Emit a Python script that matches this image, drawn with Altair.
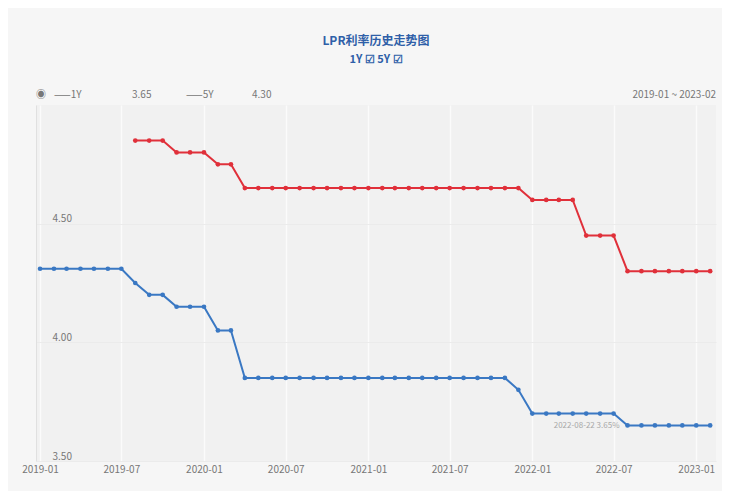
import altair as alt
import pandas as pd

months = [
    "2019-01", "2019-02", "2019-03", "2019-04", "2019-05", "2019-06", "2019-07", "2019-08", "2019-09", "2019-10", "2019-11", "2019-12",
    "2020-01", "2020-02", "2020-03", "2020-04", "2020-05", "2020-06", "2020-07", "2020-08", "2020-09", "2020-10", "2020-11", "2020-12",
    "2021-01", "2021-02", "2021-03", "2021-04", "2021-05", "2021-06", "2021-07", "2021-08", "2021-09", "2021-10", "2021-11", "2021-12",
    "2022-01", "2022-02", "2022-03", "2022-04", "2022-05", "2022-06", "2022-07", "2022-08", "2022-09", "2022-10", "2022-11", "2022-12",
    "2023-01", "2023-02",
]

lpr_1y = [
    4.31, 4.31, 4.31, 4.31, 4.31, 4.31, 4.31, 4.25, 4.20, 4.20, 4.15, 4.15,
    4.15, 4.05, 4.05, 3.85, 3.85, 3.85, 3.85, 3.85, 3.85, 3.85, 3.85, 3.85,
    3.85, 3.85, 3.85, 3.85, 3.85, 3.85, 3.85, 3.85, 3.85, 3.85, 3.85, 3.80,
    3.70, 3.70, 3.70, 3.70, 3.70, 3.70, 3.70, 3.65, 3.65, 3.65, 3.65, 3.65,
    3.65, 3.65,
]

lpr_5y = [
    None, None, None, None, None, None, None, 4.85, 4.85, 4.85, 4.80, 4.80,
    4.80, 4.75, 4.75, 4.65, 4.65, 4.65, 4.65, 4.65, 4.65, 4.65, 4.65, 4.65,
    4.65, 4.65, 4.65, 4.65, 4.65, 4.65, 4.65, 4.65, 4.65, 4.65, 4.65, 4.65,
    4.60, 4.60, 4.60, 4.60, 4.45, 4.45, 4.45, 4.30, 4.30, 4.30, 4.30, 4.30,
    4.30, 4.30,
]

series_names = ["1Y", "5Y"]
series_colors = ["#3a78c3", "#e0303a"]
x_tick_months = ["2019-01", "2019-07", "2020-01", "2020-07", "2021-01", "2021-07", "2022-01", "2022-07", "2023-01"]
y_ticks = [3.5, 4.0, 4.5]

title_text = "LPR利率历史走势图"
subtitle_text = "1Y ☑ 5Y ☑"
header_items = ["◉", "——1Y", "3.65", "——5Y", "4.30"]
header_right = "2019-01 ~ 2023-02"
note_text = "2022-08-22  3.65%"
note_month = "2022-08"

rows = []
for m, a, b in zip(months, lpr_1y, lpr_5y):
    rows.append({"date": m + "-01", "series": "1Y", "value": a})
    if b is not None:
        rows.append({"date": m + "-01", "series": "5Y", "value": b})
df = pd.DataFrame(rows)

x_scale = alt.Scale(domain=["2018-12-23", "2023-02-14"])
y_scale = alt.Scale(domain=[3.5, 5.0], nice=False, zero=False)

x_enc = alt.X(
    "date:T",
    scale=x_scale,
    title=None,
    axis=alt.Axis(
        values=[m + "-01" for m in x_tick_months],
        format="%Y-%m",
        labelFontSize=10,
        labelColor="#777",
        labelPadding=3,
        ticks=False,
        domain=False,
        grid=True,
        gridColor="#fbfbfb",
        gridWidth=1.5,
    ),
)
y_enc = alt.Y(
    "value:Q",
    scale=y_scale,
    title=None,
    axis=alt.Axis(
        values=y_ticks,
        format=".2f",
        labelFontSize=10,
        labelColor="#777",
        labelAlign="left",
        labelBaseline="bottom",
        labelPadding=-16,
        ticks=False,
        domain=True,
        domainColor="#e0e0e0",
        grid=True,
        gridColor="#ebebeb",
    ),
)
color_enc = alt.Color(
    "series:N",
    scale=alt.Scale(domain=series_names, range=series_colors),
    legend=None,
)

base = alt.Chart(df)
lines = base.mark_line(strokeWidth=2).encode(x=x_enc, y=y_enc, color=color_enc)
points = base.mark_circle(size=22, opacity=1).encode(x=x_enc, y=y_enc, color=color_enc)

note_df = pd.DataFrame([{"date": note_month + "-01", "value": lpr_1y[months.index(note_month)], "t": note_text}])
note = alt.Chart(note_df).mark_text(
    align="right", baseline="middle", dx=-8, dy=1, fontSize=8, color="#a8a8a8"
).encode(x="date:T", y="value:Q", text="t:N")

title_df = pd.DataFrame([{"t": title_text, "s": subtitle_text, "hr": header_right}])
title_mark = alt.Chart(title_df).mark_text(
    fontSize=12, fontWeight="bold", color="#2f5fa8", align="center", baseline="middle"
).encode(x=alt.value(340), y=alt.value(-64), text="t:N")
subtitle_mark = alt.Chart(title_df).mark_text(
    fontSize=11, fontWeight="bold", color="#2f5fa8", align="center", baseline="middle"
).encode(x=alt.value(340), y=alt.value(-45), text="s:N")

header_layers = []
header_x = [0, 18, 96, 150, 216]
for txt, hx in zip(header_items, header_x):
    hdf = pd.DataFrame([{"h": txt}])
    header_layers.append(
        alt.Chart(hdf).mark_text(fontSize=10, color="#777", align="left", baseline="middle")
        .encode(x=alt.value(hx), y=alt.value(-10), text="h:N")
    )
header_r = alt.Chart(title_df).mark_text(
    fontSize=10, color="#777", align="right", baseline="middle"
).encode(x=alt.value(680), y=alt.value(-10), text="hr:N")

chart = (
    alt.layer(lines, points, note, title_mark, subtitle_mark, header_r, *header_layers)
    .properties(
        width=680,
        height=356,
        autosize=alt.AutoSizeParams(type="none"),
        padding={"left": 28, "top": 97, "right": 6, "bottom": 30},
        background="#f6f6f6",
    )
    .configure(font="Noto Sans CJK SC")
    .configure_view(fill="#f1f1f1", stroke=None)
)

chart.save("out.html", embed_options={"renderer": "svg", "actions": False})
